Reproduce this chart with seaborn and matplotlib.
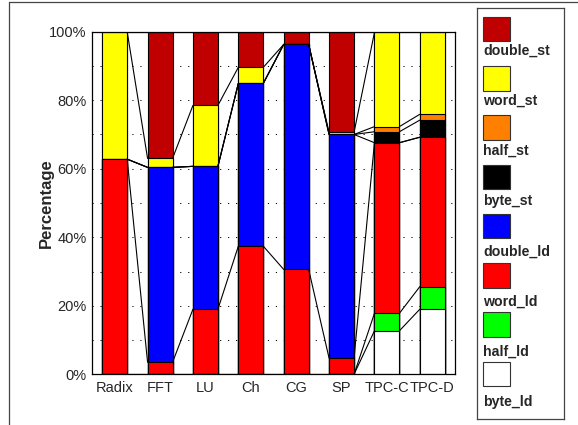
import numpy as np
import pandas as pd
import seaborn as sns
import matplotlib.pyplot as plt
from matplotlib.patches import Rectangle
from matplotlib.lines import Line2D

# benchmarks
apps = ['Radix', 'FFT', 'LU', 'Ch', 'CG', 'SP', 'TPC-C', 'TPC-D']

# share of each access type (%), bottom to top of the stack
byte_ld = [0, 0, 0, 0, 0, 0, 12.7, 19.0]
half_ld = [0, 0, 0, 0, 0, 0, 5.1, 6.6]
word_ld = [62.8, 3.5, 19.0, 37.4, 30.6, 4.7, 49.8, 43.6]
double_ld = [0, 56.9, 41.7, 47.5, 65.7, 65.3, 0, 0]
byte_st = [0, 0, 0, 0, 0, 0, 3.2, 5.0]
half_st = [0, 0, 0, 0, 0, 0, 1.5, 1.7]
word_st = [37.2, 2.6, 17.8, 4.7, 0, 0.6, 27.5, 24.1]
double_st = [0, 37.0, 21.5, 10.4, 3.7, 29.4, 0.2, 0]

series = ['byte_ld', 'half_ld', 'word_ld', 'double_ld',
          'byte_st', 'half_st', 'word_st', 'double_st']
colors = ['#FFFFFF', '#00FF00', '#FF0000', '#0000FF',
          '#000000', '#FF8000', '#FFFF00', '#C00000']

df = pd.DataFrame({'app': apps, 'byte_ld': byte_ld, 'half_ld': half_ld,
                   'word_ld': word_ld, 'double_ld': double_ld,
                   'byte_st': byte_st, 'half_st': half_st,
                   'word_st': word_st, 'double_st': double_st})
cum = df[series].cumsum(axis=1)

sns.set_style('white')
plt.rcParams['font.family'] = ['Liberation Sans', 'DejaVu Sans']

fig = plt.figure(figsize=(5.78, 4.25), dpi=100)
ax = fig.add_axes([92 / 578, 1 - 374.3 / 425, 363 / 578, 342.6 / 425])

bw = 0.55
# stacked bars: draw cumulative totals from top layer down
for s, c in reversed(list(zip(series, colors))):
    sns.barplot(x=df['app'], y=cum[s], color=c, edgecolor='black',
                linewidth=0.8, width=bw, saturation=1, ax=ax, zorder=2)

# connecting lines between neighbouring bars
for s in series:
    v = cum[s].values
    for i in range(len(apps) - 1):
        ax.plot([i + bw / 2, i + 1 - bw / 2], [v[i], v[i + 1]],
                color='black', lw=0.8, zorder=3)

ax.set_xlim(-0.5, len(apps) - 0.5)
ax.set_ylim(0, 100)
ax.set_yticks(range(0, 101, 20))
ax.set_yticklabels([f'{t}%' for t in range(0, 101, 20)])
for yy in range(10, 100, 10):
    ax.axhline(yy, color='black', lw=0.7, ls=(0, (1.2, 7)), zorder=1)
ax.set_xlabel('')
ax.set_ylabel('Percentage', fontsize=12, fontweight='bold')
ax.yaxis.set_label_coords(-0.105, 0.5)
ax.tick_params(axis='both', length=0, labelsize=10.5)
ax.tick_params(axis='x', pad=5)
ax.tick_params(axis='y', pad=4)
for sp in ax.spines.values():
    sp.set_visible(True)
    sp.set_color('black')
    sp.set_linewidth(0.9)

# legend panel: swatch above label
lax = fig.add_axes([477 / 578, 1 - 419 / 425, 87 / 578, 411 / 425])
lax.set_xlim(477, 564)
lax.set_ylim(419, 8)
lax.set_xticks([])
lax.set_yticks([])
for sp in lax.spines.values():
    sp.set_color('#444444')
    sp.set_linewidth(0.9)
for k, (s, c) in enumerate(zip(reversed(series), reversed(colors))):
    y0 = 16.7 + 49.3 * k
    lax.add_patch(Rectangle((483.3, y0), 27, 24.5, facecolor=c,
                            edgecolor='#333333', lw=0.8))
    lax.text(483, 54.3 + 50.3 * k, s, fontsize=10.2, fontweight='bold',
             va='baseline', ha='left')

# outer frame pieces
fig.add_artist(Line2D([9 / 578, 9 / 578], [0, 1 - 1.5 / 425],
                      color='#444444', lw=0.9))
fig.add_artist(Line2D([9 / 578, 1], [1 - 1.5 / 425, 1 - 1.5 / 425],
                      color='#444444', lw=0.9))

fig.savefig('out.png', dpi=100)
